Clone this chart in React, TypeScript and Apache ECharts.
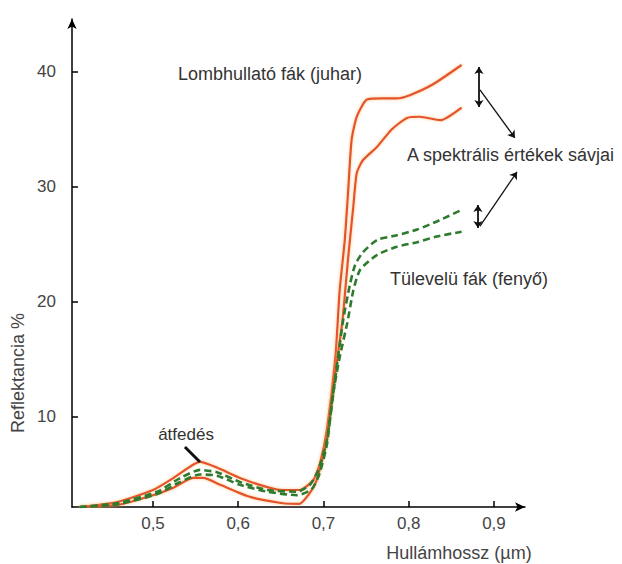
import React, { useEffect, useRef } from "react";
import * as echarts from "echarts";

// Reflectance curves [wavelength µm, reflectance %]
const mapleUpper: number[][] = [
  [0.414, 2.17], [0.458, 2.6], [0.5, 3.65], [0.524, 4.7], [0.546, 5.8], [0.555, 6.1],
  [0.575, 5.6], [0.602, 4.7], [0.634, 3.9], [0.652, 3.65], [0.672, 3.65], [0.688, 4.5],
  [0.696, 6.0], [0.704, 8.9], [0.714, 15.2], [0.719, 21.0], [0.725, 25.4], [0.729, 29.7],
  [0.733, 34.1], [0.739, 36.1], [0.751, 37.6], [0.770, 37.7], [0.786, 37.7], [0.802, 38.0],
  [0.828, 38.9], [0.862, 40.6],
];
const mapleLower: number[][] = [
  [0.414, 2.17], [0.458, 2.35], [0.5, 3.2], [0.524, 3.85], [0.547, 4.7], [0.559, 4.7],
  [0.579, 4.1], [0.614, 3.05], [0.652, 2.5], [0.672, 2.45], [0.684, 3.4], [0.692, 4.5],
  [0.704, 8.0], [0.711, 12.3], [0.722, 18.2], [0.729, 23.9], [0.735, 28.3], [0.739, 31.2],
  [0.746, 32.3], [0.763, 33.5], [0.780, 35.0], [0.798, 36.0], [0.813, 36.1], [0.837, 35.8],
  [0.862, 36.9],
];
const pineUpper: number[][] = [
  [0.414, 2.17], [0.458, 2.5], [0.505, 3.5], [0.532, 4.7], [0.555, 5.4], [0.575, 5.2],
  [0.602, 4.35], [0.634, 3.65], [0.669, 3.5], [0.684, 4.1], [0.694, 5.4], [0.704, 8.0],
  [0.7135, 13.2], [0.723, 18.4], [0.731, 21.5], [0.737, 23.2], [0.746, 24.3], [0.763, 25.4],
  [0.786, 25.8], [0.810, 26.3], [0.833, 27.0], [0.862, 28.0],
];
const pineLower: number[][] = [
  [0.414, 2.17], [0.458, 2.4], [0.505, 3.3], [0.532, 4.35], [0.555, 5.0], [0.575, 4.9],
  [0.602, 4.1], [0.634, 3.5], [0.669, 3.2], [0.686, 3.7], [0.695, 5.0], [0.704, 7.6],
  [0.711, 11.9], [0.719, 15.2], [0.728, 18.2], [0.735, 21.0], [0.743, 22.8], [0.763, 24.1],
  [0.786, 24.8], [0.810, 25.2], [0.833, 25.7], [0.862, 26.1],
];

// Tick labels
const xTicks = [0.5, 0.6, 0.7, 0.8, 0.9];
const yTicks = [10, 20, 30, 40];

// Annotation arrows (data coordinates)
const mapleRangeArrow = [[0.8824, 40.43], [0.8824, 36.96]];
const mapleLabelArrow = [[0.8836, 38.43], [0.9246, 34.26]];
const pineRangeArrow = [[0.8812, 28.43], [0.8812, 26.43]];
const pineLabelArrow = [[0.8836, 26.6], [0.927, 31.3]];
const overlapPointer = [[0.5375, 7.39], [0.5551, 6.09]];

const FONT = '"Liberation Sans", Arial, sans-serif';

export default function App() {
  const ref = useRef<HTMLDivElement>(null);
  useEffect(() => {
    if (!ref.current) return;
    const chart = echarts.init(ref.current, null, { renderer: "svg" });
    const red = "#e4532c";
    const green = "#2e7a2e";
    const redLine = (name: string, data: number[][]) => ({
      type: "line",
      name,
      data,
      smooth: 0.2,
      symbol: "none",
      lineStyle: {
        color: red,
        width: 2.2,
        shadowColor: "rgba(250,170,90,0.7)",
        shadowBlur: 3,
      },
      z: 3,
    });
    const greenLine = (name: string, data: number[][]) => ({
      type: "line",
      name,
      data,
      smooth: 0.2,
      symbol: "none",
      lineStyle: { color: green, width: 2.6, type: [7, 4] },
      z: 4,
    });
    const arrow = (coords: number[][], symbol: string[], width = 1.3) => ({
      type: "lines",
      coordinateSystem: "cartesian2d",
      symbol,
      symbolSize: 7,
      lineStyle: { color: "#111", width, opacity: 1 },
      data: [{ coords }],
      z: 5,
    });
    chart.setOption({
      animation: false,
      backgroundColor: "#fff",
      grid: { left: 72, right: 97, top: 19, bottom: 57, containLabel: false },
      xAxis: {
        type: "value",
        min: 0.405,
        max: 0.9364,
        axisLine: {
          show: true,
          onZero: false,
          symbol: ["none", "arrow"],
          symbolSize: [7, 10],
          lineStyle: { color: "#000", width: 1.5 },
        },
        axisTick: {
          show: true,
          inside: true,
          length: 6,
          customValues: xTicks,
          lineStyle: { color: "#000", width: 1.5 },
        },
        axisLabel: {
          customValues: xTicks,
          formatter: (v: number) => v.toFixed(1).replace(".", ","),
          margin: 8,
          fontSize: 17,
          color: "#444",
          fontFamily: FONT,
        },
        splitLine: { show: false },
      },
      yAxis: {
        type: "value",
        min: 2.174,
        max: 44.6,
        axisLine: {
          show: true,
          onZero: false,
          symbol: ["none", "arrow"],
          symbolSize: [7, 10],
          lineStyle: { color: "#000", width: 1.5 },
        },
        axisTick: {
          show: true,
          inside: true,
          length: 6,
          customValues: yTicks,
          lineStyle: { color: "#000", width: 1.5 },
        },
        axisLabel: {
          customValues: yTicks,
          margin: 16,
          fontSize: 17,
          color: "#444",
          fontFamily: FONT,
        },
        splitLine: { show: false },
      },
      series: [
        redLine("Lombhullató fák (max)", mapleUpper),
        redLine("Lombhullató fák (min)", mapleLower),
        greenLine("Tülevelü fák (max)", pineUpper),
        greenLine("Tülevelü fák (min)", pineLower),
        arrow(mapleRangeArrow, ["arrow", "arrow"], 1.8),
        arrow(mapleLabelArrow, ["none", "arrow"]),
        arrow(pineRangeArrow, ["arrow", "arrow"], 1.8),
        arrow(pineLabelArrow, ["none", "arrow"]),
        arrow(overlapPointer, ["none", "none"], 3),
      ],
      graphic: [
        {
          type: "text",
          x: 178,
          y: 74,
          style: { text: "Lombhullató fák (juhar)", font: `18px ${FONT}`, fill: "#333", align: "left", verticalAlign: "middle" },
        },
        {
          type: "text",
          x: 407,
          y: 155,
          style: { text: "A spektrális értékek sávjai", font: `18px ${FONT}`, fill: "#333", align: "left", verticalAlign: "middle" },
        },
        {
          type: "text",
          x: 390,
          y: 279,
          style: { text: "Tülevelü fák (fenyő)", font: `18px ${FONT}`, fill: "#333", align: "left", verticalAlign: "middle" },
        },
        {
          type: "text",
          x: 186,
          y: 434,
          style: { text: "átfedés", font: `17px ${FONT}`, fill: "#333", align: "center", verticalAlign: "middle" },
        },
        {
          type: "text",
          x: 459,
          y: 553,
          style: { text: "Hullámhossz (µm)", font: `18px ${FONT}`, fill: "#444", align: "center", verticalAlign: "middle" },
        },
        {
          type: "text",
          x: 18,
          y: 373,
          rotation: Math.PI / 2,
          style: { text: "Reflektancia %", font: `18px ${FONT}`, fill: "#444", align: "center", verticalAlign: "middle" },
        },
      ],
    });
    return () => chart.dispose();
  }, []);
  return (
    <div
      ref={ref}
      style={{ position: "fixed", left: 0, top: 0, width: 622, height: 564, background: "#fff" }}
    />
  );
}
